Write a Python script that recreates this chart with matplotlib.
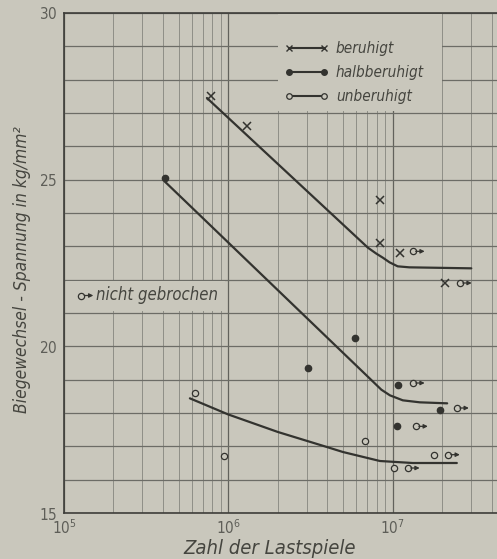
import numpy as np
import matplotlib
matplotlib.use("Agg")
import matplotlib.pyplot as plt
from matplotlib import font_manager
from matplotlib.lines import Line2D
from matplotlib.patches import Rectangle
from matplotlib.transforms import offset_copy
from matplotlib.ticker import FixedLocator, LogLocator, NullFormatter

# Werte (Lastspiele, kg/mm^2)
ber_N = [7.8e5, 1.29e6, 8.3e6, 8.3e6, 1.1e7, 2.07e7]
ber_S = [27.5, 26.6, 24.4, 23.1, 22.8, 21.9]
ber_nb_N = [1.32e7, 2.55e7]
ber_nb_S = [22.85, 21.9]
ber_curve_N = [7.4e5, 7.05e6, 7.94e6, 8.69e6, 9.55e6, 1.07e7, 1.26e7, 3.0e7]
ber_curve_S = [27.45, 22.96, 22.78, 22.66, 22.52, 22.40, 22.37, 22.34]

hal_N = [4.1e5, 3.04e6, 5.87e6, 1.07e7, 1.06e7, 1.93e7]
hal_S = [25.05, 19.35, 20.25, 18.85, 17.6, 18.1]
hal_nb_N = [1.32e7, 1.38e7, 2.45e7]
hal_nb_S = [18.9, 17.6, 18.15]
hal_curve_N = [4.11e5, 7.08e6, 8.51e6, 9.6e6, 1.15e7, 1.46e7, 2.14e7]
hal_curve_S = [24.94, 19.08, 18.70, 18.53, 18.38, 18.32, 18.29]

unb_N = [6.25e5, 9.4e5, 6.76e6, 1.01e7, 1.77e7]
unb_S = [18.6, 16.7, 17.15, 16.35, 16.75]
unb_nb_N = [1.23e7, 2.16e7]
unb_nb_S = [16.35, 16.75]
unb_curve_N = [5.83e5, 9.93e5, 2.0e6, 3.97e6, 4.97e6, 8.34e6, 1.32e7, 2.45e7]
unb_curve_S = [18.44, 17.96, 17.43, 16.98, 16.83, 16.56, 16.50, 16.50]

y_ticks = [15, 20, 25, 30]
x_ticks = [1e5, 1e6, 1e7]
x_ticklabels = [r"$\mathit{10}^{\mathit{5}}$", r"$\mathit{10}^{\mathit{6}}$", r"$\mathit{10}^{\mathit{7}}$"]
legend_labels = ["beruhigt", "halbberuhigt", "unberuhigt"]

bg = "#c9c7bc"
ink = "#33332f"
grey = "#5e5e58"
txt = "#45453f"

# schmale Schrift, falls vorhanden
cond = any(f.name == "DejaVu Sans" and f.stretch == "condensed" for f in font_manager.fontManager.ttflist)
plt.rcParams["font.family"] = ["DejaVu Sans"]
plt.rcParams["font.stretch"] = "condensed" if cond else "normal"
plt.rcParams["mathtext.fontset"] = "dejavusans"
k = 1.0 if cond else 0.8

fig = plt.figure(figsize=(4.97, 5.59), dpi=100, facecolor=bg)
ax = fig.add_axes([64 / 497, 46 / 559, 1 - 64 / 497, 500 / 559])
ax.set_facecolor(bg)
ax.set_xscale("log")
ax.set_xlim(1e5, 4.3e7)
ax.set_ylim(15, 30)

# Raster
ax.set_axisbelow(True)
ax.yaxis.set_major_locator(FixedLocator(y_ticks))
ax.yaxis.set_minor_locator(FixedLocator(np.arange(16, 30, 1)))
ax.xaxis.set_major_locator(FixedLocator(x_ticks))
ax.xaxis.set_minor_locator(LogLocator(base=10, subs=np.arange(2, 10)))
ax.xaxis.set_minor_formatter(NullFormatter())
ax.grid(True, which="both", axis="y", color="#6c6c66", lw=0.9)
ax.grid(True, which="major", axis="x", color="#62625c", lw=0.9)
ax.grid(True, which="minor", axis="x", color="#86867f", lw=0.6)
ax.tick_params(which="both", length=0)
ax.set_yticks(y_ticks)
ax.set_yticklabels([r"$\mathit{%d}$" % v for v in y_ticks], color=grey, fontsize=11 * k)
ax.set_xticks(x_ticks)
ax.set_xticklabels(x_ticklabels, color=grey, fontsize=11 * k)
ax.tick_params(axis="y", pad=5)
ax.tick_params(axis="x", pad=4)
for s in ["left", "bottom", "top"]:
    ax.spines[s].set_color("#3e3e3a")
    ax.spines[s].set_linewidth(1.2)
ax.spines["right"].set_visible(False)

# Felder für Legende und Hinweis (Raster ausgespart)
ax.add_patch(Rectangle((2e6, 27.06), 2e7 - 2e6, 2.9, facecolor=bg, edgecolor="none", zorder=0.8))
ax.add_patch(Rectangle((1.03e5, 21.05), 9.5e5 - 1.03e5, 0.9, facecolor=bg, edgecolor="none", zorder=0.8))


def not_broken(xs, ys, trans):
    for x, y in zip(xs, ys):
        ax.plot(x, y, marker="o", ms=4.5, mfc=bg, mec=ink, mew=0.9, ls="none",
                transform=trans, zorder=4, clip_on=False)
        ax.annotate("", xy=(x, y), xycoords=offset_copy(trans, fig, x=12, units="dots"),
                    xytext=(x, y), textcoords=offset_copy(trans, fig, x=3, units="dots"),
                    arrowprops=dict(arrowstyle="-|>", color=ink, lw=0.9, mutation_scale=6,
                                    shrinkA=0, shrinkB=0), zorder=4)


# Kurven
for cN, cS in [(ber_curve_N, ber_curve_S), (hal_curve_N, hal_curve_S), (unb_curve_N, unb_curve_S)]:
    ax.plot(cN, cS, color=ink, lw=1.6, solid_capstyle="round", zorder=3)

# Messpunkte
ax.plot(ber_N, ber_S, ls="none", marker="x", ms=5.5, mew=1.1, color=ink, zorder=4)
ax.plot(hal_N, hal_S, ls="none", marker="o", ms=4.5, color=ink, zorder=4)
ax.plot(unb_N, unb_S, ls="none", marker="o", ms=4.5, mfc=bg, mec=ink, mew=0.9, zorder=4)
not_broken(ber_nb_N, ber_nb_S, ax.transData)
not_broken(hal_nb_N, hal_nb_S, ax.transData)
not_broken(unb_nb_N, unb_nb_S, ax.transData)

# Legende
handles = [
    Line2D([], [], color=ink, lw=1.5, marker="x", ms=4.5, mew=1.0),
    Line2D([], [], color=ink, lw=1.5, marker="o", ms=4),
    Line2D([], [], color=ink, lw=1.5, marker="o", ms=4, mfc=bg, mew=0.9),
]
leg = ax.legend(handles, legend_labels, loc="upper left", bbox_to_anchor=(284 / 497, 1 - 41 / 559),
                bbox_transform=fig.transFigure, frameon=False, numpoints=2, handlelength=2.9 / k,
                handletextpad=0.5, labelspacing=0.6, borderpad=0, borderaxespad=0,
                prop=dict(style="italic", size=11 * k))
for t in leg.get_texts():
    t.set_color(txt)

# Hinweis "nicht gebrochen"
not_broken([0.04], [0.435], ax.transAxes)
ax.text(0.075, 0.435, "nicht gebrochen", transform=ax.transAxes, style="italic",
        fontsize=12 * k, color=txt, va="center", ha="left")

fig.text(270 / 497, 1 - 548 / 559, "Zahl der Lastspiele", style="italic", fontsize=14.5 * k,
         color=txt, ha="center", va="center")
fig.text(22 / 497, 1 - 270 / 559, "Biegewechsel - Spannung in kg/mm²", style="italic",
         fontsize=12.5 * k, color=txt, ha="center", va="center", rotation=90)

fig.savefig("out.png", dpi=100, facecolor=bg)
